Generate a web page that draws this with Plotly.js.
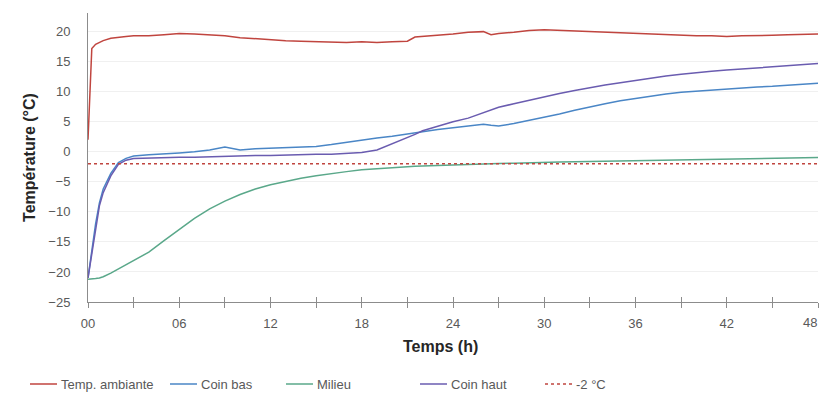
<!DOCTYPE html>
<html>
<head>
<meta charset="utf-8">
<script src="https://cdn.plot.ly/plotly-3.0.1.min.js"></script>
<style>html,body{margin:0;padding:0;background:#fff;}#chart{width:820px;height:406px;}</style>
</head>
<body>
<div id="chart"></div>
<script>
const hours = [0,0.25,0.5,0.75,1,1.5,2,2.5,3,4,5,6,7,8,9,10,11,12,13,14,15,16,17,18,19,20,21,21.5,22,23,24,25,26,26.5,27,28,29,30,31,32,33,34,35,36,37,38,39,40,41,42,43,44,45,46,47,48];
const tempAmbiante = [2.0,17.2,17.9,18.2,18.5,18.9,19.1,19.2,19.3,19.3,19.5,19.7,19.6,19.5,19.3,19.0,18.8,18.6,18.5,18.4,18.3,18.3,18.2,18.3,18.2,18.3,18.4,19.1,19.2,19.3,19.6,19.9,20.0,19.5,19.7,19.9,20.2,20.3,20.2,20.0,19.9,19.8,19.7,19.6,19.5,19.5,19.4,19.3,19.3,19.2,19.3,19.3,19.4,19.5,19.6,19.6];
const coinBas = [-21.0,-16.5,-12.0,-8.5,-6.2,-3.6,-1.8,-1.1,-0.7,-0.5,-0.4,-0.2,0.0,0.3,0.8,0.3,0.5,0.6,0.7,0.8,0.9,1.2,1.6,2.0,2.3,2.6,3.0,3.2,3.4,3.7,4.0,4.3,4.6,4.4,4.3,4.7,5.2,5.7,6.3,6.9,7.5,8.0,8.5,8.9,9.3,9.6,9.9,10.1,10.3,10.5,10.6,10.8,10.9,11.1,11.3,11.4];
const milieu = [-21.2,-21.2,-21.1,-21.0,-20.8,-20.2,-19.5,-18.8,-18.1,-16.7,-14.8,-12.9,-11.1,-9.5,-8.2,-7.1,-6.2,-5.5,-4.9,-4.4,-4.0,-3.6,-3.3,-3.0,-2.8,-2.6,-2.5,-2.4,-2.35,-2.25,-2.2,-2.1,-2.0,-2.0,-1.95,-1.9,-1.8,-1.75,-1.7,-1.65,-1.6,-1.55,-1.5,-1.45,-1.4,-1.4,-1.35,-1.3,-1.25,-1.2,-1.15,-1.1,-1.05,-1.0,-1.0,-0.95];
const coinHaut = [-21.0,-16.8,-12.5,-9.0,-6.8,-4.0,-2.1,-1.4,-1.1,-1.0,-1.0,-0.9,-0.9,-0.8,-0.7,-0.7,-0.6,-0.6,-0.5,-0.5,-0.4,-0.4,-0.3,-0.1,0.3,1.3,2.3,2.9,3.5,4.3,5.0,5.6,6.5,6.9,7.4,8.0,8.6,9.2,9.7,10.2,10.7,11.1,11.5,11.9,12.3,12.6,12.9,13.2,13.4,13.6,13.8,14.0,14.2,14.4,14.6,14.7];
const thresholdHours = [0, 48];
const thresholdTemp = [-2, -2];
const xTickVals = [0,6,12,18,24,30,36,42,48];
const xTickText = ["00","06","12","18","24","30","36","42","48"];
const yTickVals = [-25,-20,-15,-10,-5,0,5,10,15,20];
const seriesNames = ["Temp. ambiante","Coin bas","Milieu","Coin haut","-2 °C"];
const seriesColors = ['#c0453f','#4a86c6','#5aa88a','#6a5cb0','#c0453f'];
const seriesDash = ['solid','solid','solid','solid','dot'];

const lineW = 1.5;
const seriesY = [tempAmbiante, coinBas, milieu, coinHaut, thresholdTemp];
const traces = seriesY.map((ys, i) => ({
  x: i === 4 ? thresholdHours : hours, y: ys, name: seriesNames[i], mode: 'lines', showlegend: false,
  line: {color: seriesColors[i], width: lineW, dash: seriesDash[i]}
}));
traces.push({x: thresholdHours, y: thresholdTemp, xaxis: 'x2', showlegend: false, hoverinfo: 'skip', mode: 'lines', line: {width: 0}, opacity: 0});

// plot area geometry (pixels) for converting legend positions
const plotL = 88, plotW = 730, plotT = 13, plotH = 289;
const px2x = p => (p - plotL) / plotW;
const py2y = p => (plotT + plotH - p) / plotH;
const legendLineStart = [30, 170, 286, 420, 545];
const legendY = 384;

const shapes = [];
const annotations = [];
legendLineStart.forEach((s, i) => {
  shapes.push({type: 'line', xref: 'paper', yref: 'paper', x0: px2x(s), x1: px2x(s + 27), y0: py2y(legendY), y1: py2y(legendY),
               line: {color: seriesColors[i], width: 1.5, dash: seriesDash[i]}});
  annotations.push({text: seriesNames[i], xref: 'paper', yref: 'paper', x: px2x(s + 29), y: py2y(legendY),
                    xanchor: 'left', yanchor: 'middle', showarrow: false,
                    font: {size: 13, color: '#595959', family: 'Liberation Sans, Arial, sans-serif'}});
});
annotations.push({text: '<b>Temps (h)</b>', xref: 'paper', yref: 'paper', x: px2x(440), y: py2y(346), xanchor: 'center', yanchor: 'middle',
     showarrow: false, font: {size: 16, color: '#262626', family: 'Liberation Sans, Arial, sans-serif'}});
annotations.push({text: xTickText[8], xref: 'paper', yref: 'paper', x: px2x(819), y: py2y(322), xanchor: 'right', yanchor: 'middle',
     showarrow: false, font: {size: 13, color: '#595959', family: 'Liberation Sans, Arial, sans-serif'}});

const layout = {
  width: 820, height: 406,
  margin: {l: plotL, r: 820 - plotL - plotW, t: plotT, b: 406 - plotT - plotH},
  paper_bgcolor: '#fff', plot_bgcolor: '#fff',
  font: {family: 'Liberation Sans, Arial, sans-serif', color: '#595959'},
  showlegend: false,
  shapes: shapes,
  annotations: annotations,
  xaxis: {range: [0, 48], tickvals: xTickVals.slice(0, 8), ticktext: xTickText.slice(0, 8),
          showgrid: false, zeroline: false, showline: true, linecolor: '#8c8c8c', linewidth: 1,
          ticks: 'outside', ticklen: 5, tickcolor: '#8c8c8c', ticklabelstandoff: 4,
          minor: {dtick: 3, tick0: 0, ticks: 'outside', ticklen: 5, tickcolor: '#8c8c8c', showgrid: false},
          tickfont: {size: 13, color: '#595959'}},
  xaxis2: {range: [0, 48], overlaying: 'x', anchor: 'y', side: 'bottom', tickvals: xTickVals, showticklabels: false,
          showgrid: false, zeroline: false, showline: false,
          ticks: 'inside', ticklen: 5, tickcolor: '#8c8c8c',
          minor: {dtick: 3, tick0: 0, ticks: 'inside', ticklen: 5, tickcolor: '#8c8c8c', showgrid: false}},
  yaxis: {range: [-25, 23.1], tickvals: yTickVals, showgrid: true, gridcolor: '#f0f0f0', gridwidth: 1,
          zeroline: false, showline: true, linecolor: '#8c8c8c', linewidth: 1, ticks: '',
          ticklabelstandoff: 14, tickfont: {size: 13, color: '#595959'},
          title: {text: 'Température (°C)', font: {size: 16, color: '#262626', family: 'Liberation Sans, Arial, sans-serif', weight: 'bold'}, standoff: 8}}
};

Plotly.newPlot('chart', traces, layout, {displayModeBar: false, staticPlot: true});
</script>
</body>
</html>
